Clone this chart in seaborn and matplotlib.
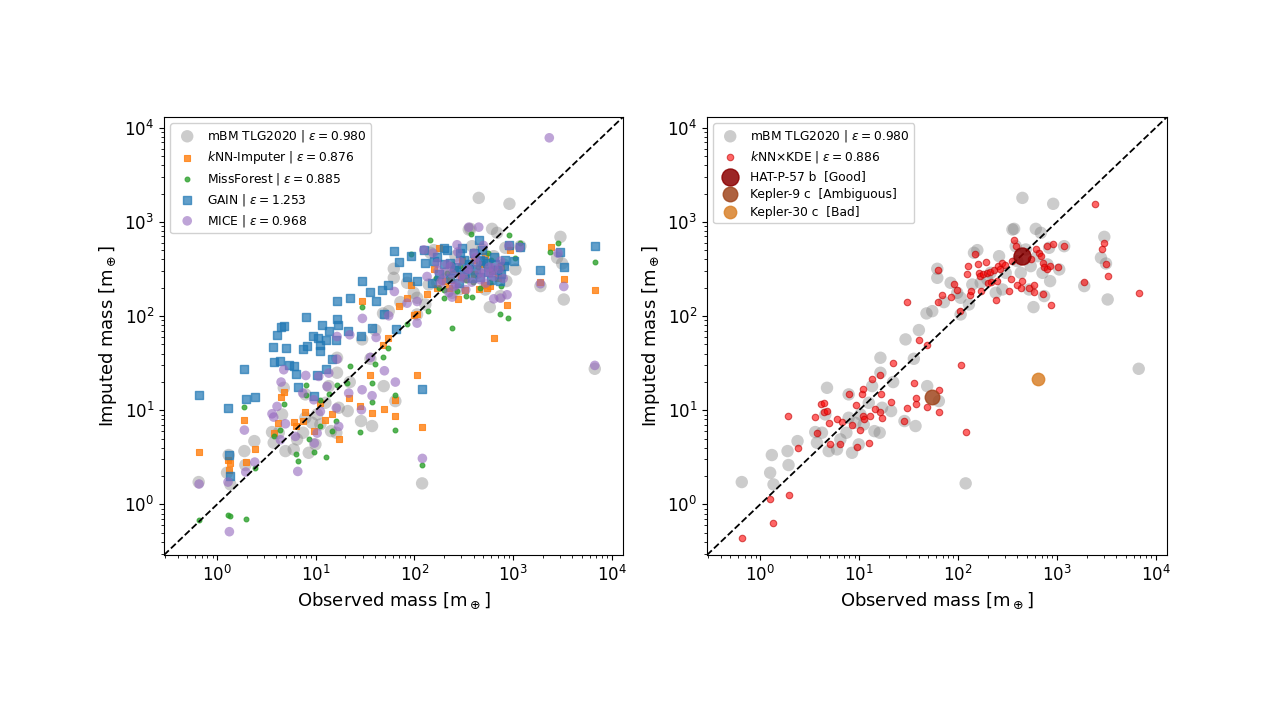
import numpy as np
import pandas as pd
import matplotlib
matplotlib.use("Agg")
import matplotlib.pyplot as plt
import seaborn as sns

# values, stored as log10(mass / m_earth)
# mBM TLG2020 (grey, same in both panels)
gray_logx = [-0.186, 0.101, 0.118, 0.135, 0.277, 0.287, 0.378, 0.557, 0.574, 0.625,
             0.659, 0.676, 0.693, 0.777, 0.811, 0.872, 0.895, 0.895, 0.929, 0.963,
             0.997, 1.014, 1.047, 1.098, 1.132, 1.155, 1.209, 1.216, 1.216, 1.233,
             1.324, 1.345, 1.459, 1.470, 1.554, 1.571, 1.605, 1.682, 1.740, 1.689,
             1.807, 1.791, 1.791, 1.858, 1.926, 1.993, 2.027, 2.027, 2.078, 2.111,
             2.145, 2.162, 2.196, 2.230, 2.297, 2.331, 2.382, 2.416, 2.449, 2.483,
             2.551, 2.568, 2.584, 2.601, 2.635, 2.652, 2.686, 2.720, 2.736, 2.764,
             2.787, 2.804, 2.838, 2.855, 2.872, 2.905, 2.922, 2.932, 2.963, 3.024,
             3.074, 3.277, 3.446, 3.480, 3.497, 3.514, 3.828]
gray_logy = [0.237, 0.336, 0.524, 0.212, 0.566, 0.418, 0.672, 0.768, 0.655, 0.761,
             0.955, 1.238, 0.566, 0.584, 0.690, 0.761, 0.920, 1.168, 0.548, 0.867,
             0.637, 0.955, 0.849, 1.079, 1.256, 0.778, 0.761, 1.398, 1.557, 1.026,
             0.991, 1.299, 0.885, 1.752, 1.546, 0.832, 1.851, 2.028, 2.052, 1.256,
             1.097, 2.406, 2.502, 2.148, 2.353, 2.247, 2.194, 2.017, 0.223, 2.123,
             2.335, 2.672, 2.700, 2.353, 2.389, 2.459, 2.247, 2.636, 2.282, 2.459,
             2.919, 2.926, 2.742, 2.583, 2.459, 3.255, 2.707, 2.282, 2.530, 2.095,
             2.926, 2.636, 2.884, 2.459, 2.212, 2.548, 2.725, 2.371, 3.192, 2.495,
             2.742, 2.318, 2.619, 2.841, 2.558, 2.176, 1.440]

# kNN-Imputer
knn_logx = [-0.182, 0.115, 0.128, 0.120, 0.277, 0.291, 0.382, 0.574, 0.615, 0.649,
            0.676, 0.777, 0.804, 0.868, 0.895, 0.980, 1.041, 1.098, 1.166, 1.233,
            1.338, 1.453, 1.473, 1.554, 1.571, 1.682, 1.689, 1.733, 1.807, 1.807,
            1.845, 1.929, 1.966, 1.993, 2.027, 2.078, 2.027, 2.128, 2.230, 2.314,
            2.247, 2.372, 2.517, 2.527, 2.652, 2.709, 2.770, 2.811, 2.939, 2.878,
            2.966, 3.277, 3.385, 3.514, 3.834, 2.405, 2.473, 2.608, 2.720, 2.787,
            2.200, 2.350, 2.480, 2.600, 2.740, 2.850, 2.440, 2.680]
knn_logy = [0.556, 0.466, 0.439, 0.368, 0.892, 0.449, 0.587, 0.757, 0.863, 1.136,
            1.189, 0.874, 0.828, 0.881, 0.977, 0.775, 1.076, 0.899, 0.962, 0.697,
            1.129, 1.040, 2.162, 1.369, 0.970, 1.695, 1.016, 1.766, 1.111, 0.934,
            2.109, 2.190, 2.328, 2.014, 1.377, 0.821, 2.021, 2.236, 2.297, 2.367,
            2.721, 2.385, 2.272, 2.403, 2.286, 2.332, 2.314, 1.766, 2.120, 2.527,
            2.703, 2.357, 2.732, 2.392, 2.279, 2.498, 2.420, 2.590, 2.640, 2.476,
            2.500, 2.300, 2.600, 2.450, 2.300, 2.400, 2.180, 2.550]

# MissForest
mf_logx = [-0.182, 0.111, 0.128, 0.291, 0.277, 0.389, 0.581, 0.635, 0.682, 0.801,
           0.818, 0.899, 0.899, 0.936, 0.986, 1.041, 1.041, 1.105, 1.139, 1.166,
           1.209, 1.216, 1.345, 1.318, 1.453, 1.473, 1.571, 1.571, 1.605, 1.679,
           1.736, 1.807, 1.807, 1.926, 1.966, 2.081, 2.139, 2.162, 2.247, 2.297,
           2.385, 2.432, 2.527, 2.574, 2.662, 2.770, 2.872, 2.946, 2.963, 3.024,
           3.074, 3.378, 3.453, 3.828, 2.331, 2.466, 2.591, 2.743, 2.804,
           2.220, 2.380, 2.520, 2.640, 2.780, 2.880, 2.300, 2.580]
mf_logy = [-0.163, -0.113, -0.127, -0.156, 1.030, 0.386, 0.722, 0.786, 1.065, 0.534,
           0.456, 1.263, 1.164, 0.697, 0.556, 1.111, 0.828, 0.499, 1.171, 0.782,
           0.881, 1.263, 1.465, 1.288, 0.768, 2.091, 1.288, 1.083, 1.493, 1.561,
           1.660, 1.164, 0.789, 1.914, 2.657, 0.421, 2.056, 2.803, 2.297, 2.190,
           1.872, 2.261, 2.215, 2.873, 2.297, 2.357, 2.021, 1.978, 2.856, 2.615,
           2.781, 2.675, 2.781, 2.569, 2.456, 2.527, 2.360, 2.668, 2.512,
           2.400, 2.550, 2.380, 2.520, 2.600, 2.320, 2.280, 2.200]

# GAIN
gain_logx = [-0.182, 0.111, 0.122, 0.135, 0.294, 0.382, 0.277, 0.564, 0.581, 0.608,
             0.649, 0.676, 0.642, 0.699, 0.726, 0.777, 0.801, 0.821, 0.868, 0.899,
             0.912, 0.973, 1.014, 1.024, 1.041, 1.061, 1.041, 1.105, 1.135, 1.166,
             1.226, 1.216, 1.209, 1.216, 1.331, 1.345, 1.108, 0.986, 1.463, 1.470,
             1.554, 1.571, 1.612, 1.672, 1.689, 1.733, 1.791, 1.811, 1.845, 1.926,
             1.966, 2.027, 2.078, 2.095, 2.111, 2.297, 2.466, 2.652, 2.956, 3.074,
             3.277, 3.514, 3.834, 3.480, 3.007, 2.872, 2.230, 2.365, 2.500, 2.601,
             2.736, 2.804, 2.905, 2.399, 2.534, 2.669, 2.838, 2.331,
             2.250, 2.300, 2.360, 2.420, 2.450, 2.500, 2.550, 2.580, 2.620, 2.660,
             2.700, 2.750, 2.780, 2.820, 2.880, 2.920, 2.200, 2.480, 2.680, 2.180]
gain_logy = [1.157, 1.019, 0.527, 0.304, 1.122, 1.136, 1.440, 1.670, 1.507, 1.801,
             1.883, 1.897, 1.518, 1.660, 1.476, 1.465, 1.384, 1.246, 1.653, 1.985,
             1.677, 1.783, 1.377, 1.766, 1.695, 1.907, 1.631, 1.748, 1.844, 1.543,
             1.907, 1.967, 1.748, 2.155, 1.837, 2.197, 1.440, 1.146, 1.783, 2.374,
             2.251, 1.872, 2.155, 2.279, 2.024, 2.332, 2.686, 1.865, 2.569, 2.420,
             2.640, 2.367, 1.228, 2.703, 2.562, 2.721, 2.668, 2.803, 2.757, 2.732,
             2.484, 2.516, 2.746, 2.682, 2.580, 2.367, 2.629, 2.562, 2.598, 2.668,
             2.562, 2.629, 2.527, 2.484, 2.505, 2.590, 2.491, 2.703,
             2.450, 2.550, 2.400, 2.520, 2.350, 2.450, 2.550, 2.400, 2.500, 2.420,
             2.580, 2.470, 2.380, 2.550, 2.450, 2.600, 2.580, 2.720, 2.700, 2.350]

# MICE
mice_logx = [-0.182, 0.111, 0.125, 0.277, 0.291, 0.382, 0.557, 0.574, 0.608, 0.649,
             0.676, 0.693, 0.642, 0.794, 0.818, 0.868, 0.899, 0.980, 0.986, 1.014,
             1.030, 1.047, 1.115, 1.132, 1.216, 1.216, 1.233, 1.209, 1.334, 1.345,
             1.473, 1.470, 1.463, 1.554, 1.571, 1.612, 1.696, 1.740, 1.807, 1.797,
             1.926, 2.027, 2.081, 2.027, 2.095, 2.128, 2.189, 2.382, 2.432, 2.551,
             2.652, 2.804, 2.939, 2.872, 2.956, 3.067, 3.277, 3.456, 3.514, 3.828,
             3.367, 2.230, 2.297, 2.365, 2.466, 2.534, 2.635, 2.703, 2.804, 2.872,
             2.264, 2.399, 2.601, 2.669, 2.770,
             2.240, 2.280, 2.330, 2.380, 2.420, 2.460, 2.500, 2.550, 2.580, 2.620,
             2.660, 2.720, 2.760, 2.800, 2.860, 2.900, 2.520, 2.440, 2.350, 2.700]
mice_logy = [0.216, 0.237, -0.290, 0.789, 0.343, 0.449, 0.962, 0.927, 1.040, 1.299,
             1.430, 0.856, 0.686, 0.722, 0.350, 1.182, 1.369, 1.111, 0.651, 0.757,
             1.359, 0.987, 1.253, 1.394, 1.783, 1.543, 0.828, 1.023, 1.182, 1.801,
             1.975, 1.217, 1.005, 1.561, 1.154, 1.773, 1.419, 2.003, 1.299, 2.261,
             2.137, 1.925, 0.488, 2.155, 2.703, 2.420, 2.668, 2.201, 2.757, 2.944,
             2.944, 2.183, 2.226, 2.190, 2.746, 2.732, 2.343, 2.668, 2.314, 1.476,
             3.893, 2.562, 2.456, 2.527, 2.420, 2.491, 2.562, 2.456, 2.512, 2.583,
             2.350, 2.314, 2.668, 2.385, 2.456,
             2.480, 2.380, 2.550, 2.450, 2.330, 2.580, 2.400, 2.500, 2.360, 2.620,
             2.470, 2.350, 2.520, 2.420, 2.500, 2.400, 2.280, 2.680, 2.250, 2.750]

# kNN x KDE (right panel)
kde_logx = [-0.186, 0.101, 0.128, 0.287, 0.277, 0.378, 0.557, 0.574, 0.615, 0.649,
            0.642, 0.676, 0.693, 0.703, 0.777, 0.804, 0.828, 0.895, 0.929, 0.973,
            0.980, 1.014, 1.030, 1.041, 1.041, 1.047, 1.098, 1.115, 1.132, 1.166,
            1.209, 1.216, 1.233, 1.223, 1.324, 1.345, 1.459, 1.480, 1.480, 1.554,
            1.571, 1.571, 1.605, 1.682, 1.689, 1.807, 1.807, 1.797, 1.797, 1.841,
            1.926, 1.959, 1.993, 2.020, 2.027, 2.078, 2.101, 2.095, 2.122, 2.135,
            2.169, 2.203, 2.213, 2.223, 2.230, 2.257, 2.280, 2.291, 2.304, 2.324,
            2.338, 2.365, 2.382, 2.392, 2.405, 2.426, 2.449, 2.473, 2.517, 2.534,
            2.551, 2.568, 2.584, 2.595, 2.635, 2.652, 2.720, 2.743, 2.764, 2.770,
            2.787, 2.821, 2.838, 2.855, 2.865, 2.872, 2.899, 2.905, 2.932, 2.939,
            2.963, 3.014, 3.074, 3.277, 3.385, 3.456, 3.473, 3.497, 3.514, 3.834]
kde_logy = [-0.361, 0.060, -0.195, 0.099, 0.938, 0.602, 0.931, 0.761, 1.062, 1.072,
            0.980, 0.991, 0.860, 0.637, 0.902, 0.637, 0.874, 1.168, 0.839, 1.051,
            0.612, 0.789, 1.168, 1.228, 0.938, 0.909, 0.655, 0.938, 1.327, 1.008,
            0.980, 1.369, 0.920, 1.168, 1.086, 1.504, 0.885, 1.026, 2.148, 1.285,
            1.132, 1.062, 1.745, 1.688, 1.033, 1.214, 0.980, 2.488, 2.151, 2.222,
            2.205, 2.343, 2.275, 2.052, 1.476, 0.771, 2.530, 2.442, 2.222, 2.265,
            2.654, 2.548, 2.459, 2.424, 2.265, 2.442, 2.572, 2.452, 2.353, 2.463,
            2.360, 2.484, 2.166, 2.371, 2.530, 2.502, 2.565, 2.537, 2.265, 2.389,
            2.583, 2.806, 2.742, 2.335, 2.300, 2.371, 2.300, 2.608, 2.254, 2.335,
            2.707, 2.672, 2.636, 2.565, 2.229, 2.523, 2.749, 2.495, 2.530, 2.113,
            2.767, 2.523, 2.742, 2.360, 3.195, 2.714, 2.778, 2.558, 2.424, 2.240]

# highlighted planets
hl_names = ["HAT-P-57 b  [Good]", "Kepler-9 c  [Ambiguous]", "Kepler-30 c  [Bad]"]
hl_logx = [2.652, 1.733, 2.811]
hl_logy = [2.643, 1.143, 1.327]
hl_colors = ["#8b0000", "#a0471e", "#d9822b"]
hl_sizes = [150, 110, 80]

lim = (0.29, 1.3e4)


def frame(lx, ly):
    return pd.DataFrame({"obs": 10 ** np.array(lx), "imp": 10 ** np.array(ly)})


def finish(ax):
    ax.plot(lim, lim, "k--", lw=1.3, zorder=5)
    ax.set_xscale("log")
    ax.set_yscale("log")
    ax.set_xlim(lim)
    ax.set_ylim(lim)
    ax.set_xlabel(r"Observed mass [m$_\oplus$]", fontsize=13)
    ax.set_ylabel(r"Imputed mass [m$_\oplus$]", fontsize=13)
    ax.tick_params(labelsize=12)
    ax.legend(loc="upper left", fontsize=8.8, framealpha=0.9,
              labelspacing=0.4, handletextpad=0.6)


fig = plt.figure(figsize=(12.8, 7.19), dpi=100)
ax1 = fig.add_axes([164 / 1280, 1 - 555 / 719, 459 / 1280, 438 / 719])
ax2 = fig.add_axes([707 / 1280, 1 - 555 / 719, 460 / 1280, 438 / 719])

gray = frame(gray_logx, gray_logy)
gray_kw = dict(color="grey", alpha=0.4, s=80, edgecolor="none")

# left panel: the five imputers
sns.scatterplot(data=gray, x="obs", y="imp", ax=ax1, label=r"mBM TLG2020 | $\varepsilon = 0.980$", **gray_kw)
sns.scatterplot(data=frame(knn_logx, knn_logy), x="obs", y="imp", ax=ax1, marker="s",
                color="tab:orange", s=13, alpha=0.8, edgecolor="tab:orange", linewidth=0.8,
                label=r"$k$NN-Imputer | $\varepsilon = 0.876$")
sns.scatterplot(data=frame(mf_logx, mf_logy), x="obs", y="imp", ax=ax1, marker="o",
                color="tab:green", s=12, alpha=0.8, edgecolor="tab:green", linewidth=0.8,
                label=r"MissForest | $\varepsilon = 0.885$")
sns.scatterplot(data=frame(gain_logx, gain_logy), x="obs", y="imp", ax=ax1, marker="s",
                color="tab:blue", s=32, alpha=0.7, edgecolor="tab:blue", linewidth=1.0,
                label=r"GAIN | $\varepsilon = 1.253$")
sns.scatterplot(data=frame(mice_logx, mice_logy), x="obs", y="imp", ax=ax1, marker="o",
                color="tab:purple", s=48, alpha=0.6, edgecolor="none",
                label=r"MICE | $\varepsilon = 0.968$")
finish(ax1)

# right panel: kNN x KDE with three example planets
sns.scatterplot(data=gray, x="obs", y="imp", ax=ax2, label=r"mBM TLG2020 | $\varepsilon = 0.980$", **gray_kw)
sns.scatterplot(data=frame(kde_logx, kde_logy), x="obs", y="imp", ax=ax2,
                color="red", s=22, alpha=0.6, edgecolor="#c00000", linewidth=0.8,
                label=r"$k$NN$\times$KDE | $\varepsilon = 0.886$")
for name, hx, hy, c, sz in zip(hl_names, hl_logx, hl_logy, hl_colors, hl_sizes):
    sns.scatterplot(data=frame([hx], [hy]), x="obs", y="imp", ax=ax2, color=c, s=sz,
                    alpha=0.85, edgecolor=c, linewidth=1.0, label=name, zorder=6)
finish(ax2)

fig.savefig("out.png", dpi=100)
